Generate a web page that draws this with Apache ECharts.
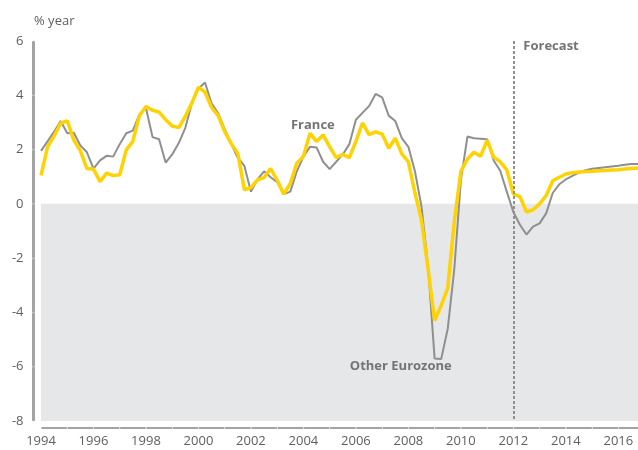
<!DOCTYPE html>
<html><head><meta charset="utf-8">
<script src="https://cdn.jsdelivr.net/npm/echarts@6/dist/echarts.min.js"></script>
<style>html,body{margin:0;padding:0;background:#fff}#c{width:638px;height:450px}</style>
</head><body><div id="c"></div>
<script>
// Quarterly GDP growth, % year, 1994 Q1 .. 2016 Q4
const startYear = 1994;
const france = [
 1.05, 2.1, 2.5, 2.97, 3.06, 2.35, 1.95, 1.3,
 1.28, 0.82, 1.13, 1.04, 1.07, 1.99, 2.3, 3.25,
 3.59, 3.45, 3.38, 3.1, 2.87, 2.81, 3.22, 3.72,
 4.3, 4.12, 3.55, 3.25, 2.66, 2.22, 1.85, 0.52,
 0.6, 0.88, 0.97, 1.3, 0.87, 0.36, 0.75, 1.5,
 1.75, 2.6, 2.3, 2.54, 2.1, 1.7, 1.83, 1.7,
 2.3, 2.98, 2.55, 2.65, 2.57, 2.05, 2.42, 1.84,
 1.55, 0.4, -0.6, -2.4, -4.3, -3.75, -3.1, -0.65,
 1.2, 1.65, 1.9, 1.75, 2.35, 1.72, 1.55, 1.25,
 0.37, 0.27, -0.3, -0.22, 0.0, 0.3, 0.85, 0.98,
 1.1, 1.15, 1.17, 1.19, 1.2, 1.22, 1.23, 1.25,
 1.26, 1.28, 1.3, 1.32
];
const otherEurozone = [
 1.95, 2.3, 2.66, 3.05, 2.6, 2.62, 2.15, 1.9,
 1.3, 1.6, 1.77, 1.74, 2.2, 2.6, 2.7, 3.3,
 3.53, 2.46, 2.38, 1.52, 1.82, 2.24, 2.8, 3.71,
 4.25, 4.47, 3.7, 3.34, 2.75, 2.2, 1.7, 1.4,
 0.45, 0.9, 1.2, 0.98, 0.8, 0.36, 0.45, 1.2,
 1.74, 2.1, 2.08, 1.55, 1.28, 1.55, 1.82, 2.2,
 3.1, 3.35, 3.6, 4.05, 3.92, 3.25, 3.05, 2.42,
 2.1, 1.2, -0.1, -2.3, -5.7, -5.72, -4.6, -2.4,
 0.87, 2.48, 2.42, 2.4, 2.38, 1.6, 1.22, 0.45,
 -0.3, -0.77, -1.13, -0.84, -0.72, -0.35, 0.4, 0.72,
 0.9, 1.03, 1.15, 1.24, 1.29, 1.32, 1.35, 1.38,
 1.4, 1.44, 1.47, 1.47
];
const forecastStart = 2012;
const seriesNames = ['France', 'Other Eurozone'];
const yMin = -8, yMax = 6, yStep = 2;
const xMin = 1994, xMax = 2016.75, xStep = 2;

const toPairs = arr => arr.map((v, i) => [startYear + i / 4, v]);
const FONT = "'Open Sans', 'DejaVu Sans', sans-serif";
const axisGray = '#a3a3a3';

const chart = echarts.init(document.getElementById('c'), null, {renderer: 'canvas'});
chart.setOption({
  animation: false,
  backgroundColor: '#fff',
  title: {
    text: '% year', left: 29, top: 10,
    textStyle: {fontFamily: FONT, fontSize: 13, fontWeight: 'normal', color: '#606060'}
  },
  grid: {left: 41, right: 0, top: 41, bottom: 29},
  xAxis: {
    type: 'value', min: xMin, max: xMax, interval: xStep,
    offset: 7,
    axisLine: {show: true, onZero: false, lineStyle: {color: axisGray, width: 2, type: [24.05, 2.2], dashOffset: 25.15}},
    axisTick: {show: false},
    splitLine: {show: false},
    axisLabel: {
      showMaxLabel: false, margin: 7,
      fontFamily: FONT, fontSize: 13, color: '#606060',
      formatter: v => (v % 2 === 0 ? String(v) : '')
    }
  },
  yAxis: {
    type: 'value', min: yMin, max: yMax, interval: yStep,
    offset: 7.5,
    axisLine: {show: true, onZero: false, lineStyle: {color: axisGray, width: 3, type: [51.79, 2.5], dashOffset: 53.04}},
    axisTick: {show: false},
    splitLine: {show: false},
    axisLabel: {margin: 10, fontFamily: FONT, fontSize: 13, color: '#606060'}
  },
  series: [
    {
      name: seriesNames[1], type: 'line', data: toPairs(otherEurozone),
      showSymbol: false, symbol: 'none', z: 2,
      lineStyle: {color: '#8f8f8f', width: 2},
      markArea: {
        silent: true,
        itemStyle: {color: '#e6e7e9'},
        data: [[{coord: [xMin, 0]}, {coord: [xMax, yMin]}]]
      },
      markLine: {
        silent: true, symbol: ['none', 'none'],
        label: {show: false},
        lineStyle: {color: '#8f8f8f', width: 2, type: [3, 2]},
        data: [[{coord: [forecastStart, yMax]}, {coord: [forecastStart, yMin]}]]
      },
      markPoint: {
        silent: true, symbol: 'circle', symbolSize: 0,
        label: {show: true, fontFamily: FONT, fontSize: 13, fontWeight: 'bold', color: '#747474', formatter: '{b}'},
        data: [
          {name: seriesNames[0], coord: [2004.36, 2.91], label: {position: 'inside'}},
          {name: seriesNames[1], coord: [2007.71, -6.0], label: {position: 'inside'}},
          {name: 'Forecast', coord: [2012.38, 5.82], label: {position: 'right', distance: 0}}
        ]
      }
    },
    {
      name: seriesNames[0], type: 'line', data: toPairs(france),
      showSymbol: false, symbol: 'none', z: 3,
      lineStyle: {color: '#FFD200', width: 3.5}
    }
  ]
});
</script>
</body></html>
